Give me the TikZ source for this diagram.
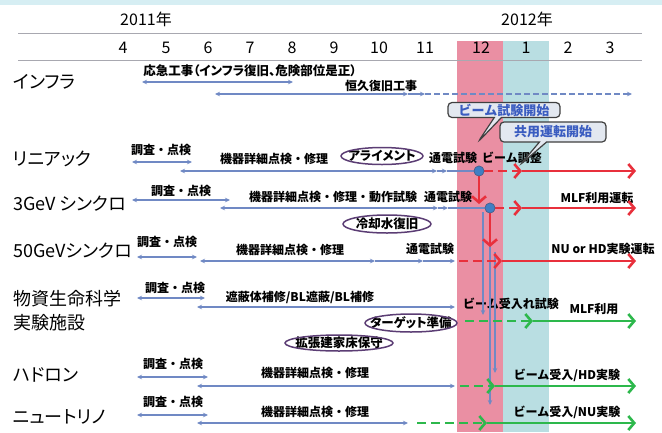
\documentclass[tikz,border=0pt]{standalone}
\usepackage{fontspec}
\setmainfont{Noto Sans CJK JP}
\newfontfamily\pfont{Noto Sans CJK JP}[RawFeature=+palt]
\usetikzlibrary{arrows.meta,shapes.geometric,shapes.callouts}
\definecolor{lblue}{HTML}{7089C4}
\definecolor{rred}{HTML}{E8303C}
\definecolor{ggreen}{HTML}{2DB84C}
\definecolor{pinkb}{HTML}{EA8FA3}
\definecolor{cyanb}{HTML}{B9DEE2}
\definecolor{topb}{HTML}{D6EEF3}
\definecolor{hdr}{HTML}{A8A8B0}
\definecolor{ellb}{HTML}{5B3D74}
\definecolor{callf}{HTML}{E3E8F0}
\definecolor{callt}{HTML}{3A5CC0}
\definecolor{dotf}{HTML}{3F7FC4}
\begin{document}
\begin{tikzpicture}[x=1pt,y=-1pt,
 lab/.style={font=\fontsize{12}{14}\selectfont\bfseries, inner sep=0pt},
 rowlab/.style={font=\pfont\fontsize{18}{20}\selectfont, anchor=west, inner sep=0pt},
 mon/.style={font=\fontsize{16}{18}\selectfont, inner sep=0pt},
 bline/.style={draw=lblue, line width=1.4pt},
 bb/.style={bline, {Stealth[length=5pt,width=4.5pt]}-{Stealth[length=5pt,width=4.5pt]}},
 br/.style={bline, -{Stealth[length=5pt,width=4.5pt]}},
 bd/.style={br, dash pattern=on 6pt off 3pt},
 rl/.style={draw=rred, line width=2.6pt, -{Straight Barb[length=6pt,width=14pt]}},
 rd/.style={rl, dash pattern=on 9pt off 5pt},
 gl/.style={draw=ggreen, line width=2.6pt, -{Straight Barb[length=6pt,width=14pt]}},
 gd/.style={gl, dash pattern=on 9pt off 5pt},
 elltext/.style={font=\pfont\fontsize{12.5}{14}\selectfont\bfseries, inner sep=0pt},
 ellline/.style={draw=ellb, line width=1.5pt},
 dot/.style={circle, fill=dotf, draw=lblue!70!black, line width=0.6pt, minimum size=10pt, inner sep=0pt},
 call/.style={rectangle callout, rounded corners=4pt, draw=black!75, line width=1.2pt, fill=callf, text=callt, font=\fontsize{13}{15}\selectfont\bfseries, inner xsep=4pt, inner ysep=1pt}
]
\useasboundingbox (0,0) rectangle (662,432);
\fill[white] (0,0) rectangle (662,432);
\fill[topb] (0,0) rectangle (662,5);
\fill[pinkb] (457,41) rectangle (503,432);
\fill[cyanb] (503,41) rectangle (549,432);
% header
\node[mon] (y11) at (146,19) {2011年};
\node[mon] (y12) at (527,19) {2012年};
\coordinate (h1a) at (18,33); \coordinate (h1b) at (642,33);
\coordinate (h2a) at (18,60); \coordinate (h2b) at (642,60);
\draw[hdr, line width=1pt] (h1a) -- (h1b);
\draw[hdr, line width=1pt] (h2a) -- (h2b);
\foreach \m/\x in {4/123,5/166,6/208,7/250,8/292,9/334,10/379,11/425,12/481,1/526,2/568,3/610}
  \node[mon] (mo\m) at (\x,48) {\m};
% row labels
\node[rowlab] (rInfra) at (13,82) {インフラ};
\node[rowlab] (rLinac) at (13,159) {リニアック};
\node[rowlab] (rRCS) at (13,204) {3GeV シンクロ};
\node[rowlab] (rMR) at (13,251) {50GeVシンクロ};
\node[rowlab] (rMLF1) at (13,299) {物資生命科学};
\node[rowlab] (rMLF2) at (13,323) {実験施設};
\node[rowlab] (rHD) at (13,375) {ハドロン};
\node[rowlab] (rNU) at (13,417) {ニュートリノ};
% Infra
\node[lab, font=\pfont\fontsize{12.5}{14}\selectfont\bfseries] (tEm) at (250,71) {応急工事（インフラ復旧、危険部位是正）};
\coordinate (iA1) at (142,82); \coordinate (iA2) at (293,82);
\draw[bb] (iA1) -- (iA2);
\node[lab] (tPerm) at (381,86) {恒久復旧工事};
\coordinate (iB1) at (215,94); \coordinate (iB2) at (408,94); \coordinate (iB3) at (425,94); \coordinate (iB4) at (632,94);
\draw[bb] (iB1) -- (iB2);
\draw[br] (iB2) -- (iB3);
\draw[bd] (iB3) -- (iB4);
% Linac
\node[lab] (lS) at (161,150) {調査・点検};
\coordinate (lA1) at (132,162); \coordinate (lA2) at (192,162);
\draw[bb] (lA1) -- (lA2);
\node[lab] (lD) at (274,159) {機器詳細点検・修理};
\node[elltext] (lAl) at (382,156) {アライメント};
\draw[ellline] (lAl.center) ellipse [x radius=41, y radius=8.5];
\node[lab] (lT) at (453,158) {通電試験};
\node[lab] (lBT) at (512,158) {ビーム調整};
\node[dot] (dL) at (479,171) {};
\coordinate (lB1) at (180,171); \coordinate (lB2) at (437,171); \coordinate (lB3) at (447,171);
\coordinate (lR1) at (522,171); \coordinate (lR2) at (636,171);
\draw[bb] (lB1) -- (lB2);
\draw[br] (lB2) -- (lB3);
\draw[bline] (lB3) -- (dL);
% RCS
\node[lab] (sS) at (181,191) {調査・点検};
\coordinate (sA1) at (132,200); \coordinate (sA2) at (230,200);
\draw[bb] (sA1) -- (sA2);
\node[lab] (sD) at (333,197) {機器詳細点検・修理・動作試験};
\node[lab] (sT) at (448,197) {通電試験};
\node[lab] (sM) at (597,198) {MLF利用運転};
\node[dot] (dS) at (490,208) {};
\coordinate (sB1) at (220,208); \coordinate (sB2) at (438,208); \coordinate (sB3) at (448,208);
\coordinate (sR1) at (522,208); \coordinate (sR2) at (636,208);
\draw[bb] (sB1) -- (sB2);
\draw[br] (sB2) -- (sB3);
\draw[bline] (sB3) -- (dS);
\node[elltext] (sC) at (387,224) {冷却水復旧};
\draw[ellline] (sC.center) ellipse [x radius=44, y radius=9];
% MR
\node[lab] (mS) at (167,242) {調査・点検};
\coordinate (mA1) at (137,257); \coordinate (mA2) at (197,257);
\draw[bb] (mA1) -- (mA2);
\node[lab] (mD) at (290,250) {機器詳細点検・修理};
\node[lab] (mT) at (430,249) {通電試験};
\node[lab] (mN) at (603,249) {NU or HD実験運転};
\coordinate (mB1) at (200,261); \coordinate (mB2) at (375,261); \coordinate (mB3) at (423,261); \coordinate (mB4) at (455,261);
\draw[bb] (mB1) -- (mB2);
\draw[br] (mB2) -- (mB3);
\draw[br] (mB3) -- (mB4);
\coordinate (mR0) at (459,261); \coordinate (mR1) at (502,261); \coordinate (mR2) at (636,261);
% MLF
\node[lab] (fS) at (175,288) {調査・点検};
\coordinate (fA1) at (137,298); \coordinate (fA2) at (205,298);
\draw[bb] (fA1) -- (fA2);
\node[lab] (fD) at (300,297) {遮蔽体補修/BL遮蔽/BL補修};
\coordinate (fB1) at (197,307); \coordinate (fB2) at (455,307);
\draw[bb] (fB1) -- (fB2);
\node[lab] (fBT) at (511,304) {ビーム受入れ試験};
\node[lab] (fM) at (594,309) {MLF利用};
\node[elltext] (fTg) at (411,323) {ターゲット準備};
\draw[ellline] (fTg.center) ellipse [x radius=46, y radius=9];
\node[elltext] (fFl) at (339,343) {拡張建家床保守};
\draw[ellline] (fFl.center) ellipse [x radius=54, y radius=8];
\coordinate (fG0) at (465,321); \coordinate (fG1) at (533,321); \coordinate (fG2) at (636,321);
% Hadron
\node[lab] (hS) at (173,364) {調査・点検};
\coordinate (hA1) at (137,377); \coordinate (hA2) at (208,377);
\draw[bb] (hA1) -- (hA2);
\node[lab] (hD) at (315,373) {機器詳細点検・修理};
\coordinate (hB1) at (197,386); \coordinate (hB2) at (455,386);
\draw[bb] (hB1) -- (hB2);
\node[lab] (hE) at (567,375) {ビーム受入/HD実験};
\coordinate (hG0) at (460,386); \coordinate (hG1) at (495,386); \coordinate (hG2) at (636,386);
% Neutrino
\node[lab] (nS) at (173,402) {調査・点検};
\coordinate (nA1) at (137,415); \coordinate (nA2) at (208,415);
\draw[bb] (nA1) -- (nA2);
\node[lab] (nD) at (315,412) {機器詳細点検・修理};
\coordinate (nB1) at (197,423); \coordinate (nB2) at (408,423);
\draw[bb] (nB1) -- (nB2);
\node[lab] (nE) at (567,412) {ビーム受入/NU実験};
\coordinate (nG0) at (417,423); \coordinate (nG1) at (487,423); \coordinate (nG2) at (636,423);
% blue verticals from RCS
\coordinate (v1s) at (483,212); \coordinate (v1e) at (483,315);
\coordinate (v2s) at (490,212); \coordinate (v2e) at (490,405);
\coordinate (v3s) at (495,252); \coordinate (v3e) at (495,373);
\draw[br] (v1s) -- (v1e);
\draw[br] (v2s) -- (v2e);
\draw[br] (v3s) -- (v3e);
% red / green
\draw[rd] (dL) -- (lR1);
\draw[rl] (lR1) -- (lR2);
\draw[rd] (dS) -- (sR1);
\draw[rl] (sR1) -- (sR2);
\draw[rd] (mR0) -- (mR1);
\draw[rl] (mR1) -- (mR2);
\coordinate (dLd) at (479,204);
\coordinate (dSd) at (490,247);
\draw[rl] (dL) -- (dLd);
\draw[rl] (dS) -- (dSd);
\draw[gd] (fG0) -- (fG1);
\draw[gl] (fG1) -- (fG2);
\draw[gd] (hG0) -- (hG1);
\draw[gl] (hG1) -- (hG2);
\draw[gd] (nG0) -- (nG1);
\draw[gl] (nG1) -- (nG2);
\node[dot] at (dL) {};
\node[dot] at (dS) {};
% callouts
\node[call, callout absolute pointer={(478,142)}, minimum width=112pt, minimum height=15pt] (cB) at (504,110) {ビーム試験開始};
\node[call, callout absolute pointer={(520,165)}, minimum width=106pt, minimum height=20pt] (cK) at (553,132) {共用運転開始};
\end{tikzpicture}
\end{document}
